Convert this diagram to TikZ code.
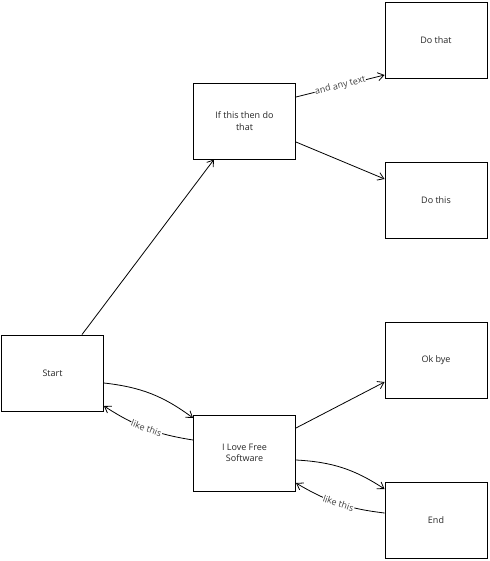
\documentclass[tikz,border=0pt]{standalone}
\usepackage{fontspec}
\setmainfont{Open Sans}
\usetikzlibrary{arrows.meta}
\begin{document}
\begin{tikzpicture}[x=1pt,y=-1pt,
  box/.style={draw=black,line width=0.9pt,rectangle,minimum width=102pt,minimum height=76pt,inner sep=0pt,align=center,font=\fontsize{9}{11.5}\selectfont,text=black!85},
  conn/.style={line width=0.8pt,-{Straight Barb[length=6pt,width=8pt]}},
  lbl/.style={sloped,fill=white,inner sep=0.5pt,font=\fontsize{9}{10}\selectfont,text=black!75}]
\useasboundingbox (0,0) rectangle (489,561);
\node[box] (start) at (52.5,373) {Start};
\node[box] (ifthis) at (244.5,121) {If this then do\\that};
\node[box] (dothat) at (436,40.5) {Do that};
\node[box] (dothis) at (436,200.5) {Do this};
\node[box] (okbye) at (436,360.5) {Ok bye};
\node[box] (ilove) at (244.5,453) {I Love Free\\Software};
\node[box] (end) at (436,520.5) {End};
\draw[conn] ([xshift=29.5pt]start.north) -- ([xshift=-30.5pt]ifthis.south);
\draw[conn] ([yshift=24pt]ifthis.east) -- node[lbl]{and any text} ([yshift=-34.5pt]dothat.west);
\draw[conn] ([yshift=-21pt]ifthis.east) -- ([yshift=21.5pt]dothis.west);
\draw[conn] ([yshift=-10pt]start.east) to[bend left=15] ([yshift=35pt]ilove.west);
\draw[conn] ([yshift=13pt]ilove.west) to[bend left=12] node[lbl]{like this} ([yshift=-33pt]start.east);
\draw[conn] ([yshift=25pt]ilove.east) -- ([yshift=-21.5pt]okbye.west);
\draw[conn] ([yshift=-7pt]ilove.east) to[bend left=15] ([yshift=31.5pt]end.west);
\draw[conn] ([yshift=7.5pt]end.west) to[bend left=12] node[lbl]{like this} ([yshift=-30pt]ilove.east);
\end{tikzpicture}
\end{document}
